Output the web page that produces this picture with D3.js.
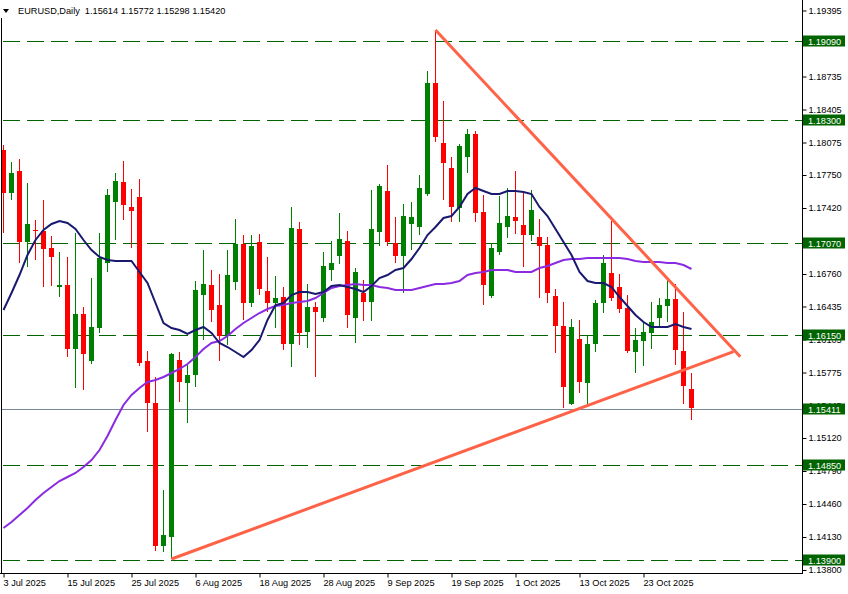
<!DOCTYPE html>
<html><head><meta charset="utf-8">
<script src="https://cdn.jsdelivr.net/npm/d3@7"></script>
<style>html,body{margin:0;padding:0;background:#fff;} svg{display:block;}</style>
</head><body><svg id="c" width="848" height="594"></svg>
<script>
// ---- DATA ----
const symbol = "EURUSD,Daily";
const dates = [
"2025-07-03","2025-07-04","2025-07-07","2025-07-08","2025-07-09","2025-07-10","2025-07-11","2025-07-14","2025-07-15","2025-07-16",
"2025-07-17","2025-07-18","2025-07-21","2025-07-22","2025-07-23","2025-07-24","2025-07-25","2025-07-28","2025-07-29","2025-07-30",
"2025-07-31","2025-08-01","2025-08-04","2025-08-05","2025-08-06","2025-08-07","2025-08-08","2025-08-11","2025-08-12","2025-08-13",
"2025-08-14","2025-08-15","2025-08-18","2025-08-19","2025-08-20","2025-08-21","2025-08-22","2025-08-25","2025-08-26","2025-08-27",
"2025-08-28","2025-08-29","2025-09-01","2025-09-02","2025-09-03","2025-09-04","2025-09-05","2025-09-08","2025-09-09","2025-09-10",
"2025-09-11","2025-09-12","2025-09-15","2025-09-16","2025-09-17","2025-09-18","2025-09-19","2025-09-22","2025-09-23","2025-09-24",
"2025-09-25","2025-09-26","2025-09-29","2025-09-30","2025-10-01","2025-10-02","2025-10-03","2025-10-06","2025-10-07","2025-10-08",
"2025-10-09","2025-10-10","2025-10-13","2025-10-14","2025-10-15","2025-10-16","2025-10-17","2025-10-20","2025-10-21","2025-10-22",
"2025-10-23","2025-10-24","2025-10-27","2025-10-28","2025-10-29","2025-10-30","2025-10-31"];
const open = [
1.1800,1.1757,1.1779,1.1708,1.1720,1.1719,1.1702,1.1663,1.1665,1.1601,
1.1636,1.1589,1.1622,1.1687,1.1748,1.1768,1.1743,1.1753,1.1589,1.1547,
1.1404,1.1413,1.1590,1.1567,1.1575,1.1655,1.1665,1.1645,1.1615,1.1668,
1.1706,1.1647,1.1708,1.1659,1.1647,1.1653,1.1606,1.1721,1.1618,1.1643,
1.1632,1.1680,1.1694,1.1709,1.1632,1.1657,1.1648,1.1718,1.1759,1.1707,
1.1694,1.1726,1.1723,1.1756,1.1867,1.1807,1.1782,1.1742,1.1793,1.1816,
1.1738,1.1654,1.1698,1.1723,1.1733,1.1725,1.1715,1.1713,1.1705,1.1654,
1.1624,1.1546,1.1611,1.1567,1.1606,1.1647,1.1677,1.1663,1.1642,1.1598,
1.1609,1.1617,1.1632,1.1644,1.1651,1.1599,1.15614];
const high = [
1.1805,1.1788,1.1791,1.1767,1.1730,1.1750,1.1714,1.1698,1.1693,1.1717,
1.1643,1.1672,1.1717,1.1761,1.1777,1.1789,1.1761,1.1771,1.1599,1.1573,
1.1460,1.1597,1.1598,1.1587,1.1669,1.1700,1.1680,1.1676,1.1700,1.1731,
1.1715,1.1715,1.1716,1.1693,1.1674,1.1663,1.1743,1.1728,1.1666,1.1648,
1.1698,1.1709,1.1737,1.1719,1.1682,1.1670,1.1760,1.1766,1.1785,1.1733,
1.1746,1.1748,1.1775,1.1879,1.1920,1.1849,1.1793,1.1806,1.1821,1.1819,
1.1755,1.1707,1.1754,1.1762,1.1779,1.1757,1.1760,1.1731,1.1713,1.1661,
1.1648,1.1631,1.1630,1.1614,1.1650,1.1695,1.1729,1.1676,1.1655,1.1622,
1.1628,1.1648,1.1652,1.1670,1.1666,1.1638,1.15772];
const low = [
1.1717,1.1750,1.1687,1.1683,1.1690,1.1663,1.1664,1.1653,1.1593,1.1562,
1.1560,1.1586,1.1617,1.1678,1.1710,1.1730,1.1702,1.1584,1.1518,1.1399,
1.1398,1.1391,1.1548,1.1527,1.1563,1.1610,1.1628,1.1589,1.1605,1.1660,
1.1630,1.1643,1.1655,1.1638,1.1622,1.1600,1.1583,1.1605,1.1602,1.1573,
1.1628,1.1669,1.1686,1.1622,1.1607,1.1629,1.1629,1.1704,1.1704,1.1687,
1.1657,1.1700,1.1715,1.1754,1.1808,1.1750,1.1728,1.1728,1.1777,1.1728,
1.1645,1.1652,1.1695,1.1712,1.1716,1.1683,1.1709,1.1652,1.1647,1.1597,
1.1542,1.1545,1.1557,1.1543,1.1598,1.1637,1.1649,1.1637,1.1597,1.1577,
1.1584,1.1601,1.1623,1.1628,1.1585,1.1546,1.15298];
const close = [
1.1757,1.1777,1.1708,1.1726,1.1719,1.1701,1.1693,1.1665,1.1601,1.1636,
1.1596,1.1623,1.1692,1.1755,1.1769,1.1745,1.1739,1.1587,1.1547,1.1404,
1.1415,1.1596,1.1568,1.1575,1.1660,1.1666,1.1640,1.1614,1.1675,1.1706,
1.1647,1.1704,1.1661,1.1647,1.1652,1.1606,1.1722,1.1617,1.1643,1.1638,
1.1684,1.1687,1.1711,1.1635,1.1678,1.1648,1.1721,1.1764,1.1708,1.1694,
1.1734,1.1733,1.1762,1.1867,1.1813,1.1787,1.1743,1.1804,1.1816,1.1737,
1.1665,1.1702,1.1727,1.1734,1.1729,1.1715,1.1740,1.1704,1.1657,1.1624,
1.1563,1.1623,1.1568,1.1606,1.1647,1.1687,1.1652,1.1641,1.1599,1.1610,
1.1618,1.1628,1.1645,1.1651,1.1600,1.1564,1.15420];
const maFast = [
1.1640,1.1657,1.1675,1.1695,1.1710,1.1720,1.1726,1.1729,1.1727,1.1721,
1.1710,1.1700,1.1693,1.1690,1.1689,1.1689,1.1689,1.1678,1.1667,1.1647,
1.1627,1.1622,1.1620,1.1616,1.1620,1.1623,1.1617,1.1607,1.1603,1.1598,
1.1593,1.1600,1.1610,1.1630,1.1645,1.1647,1.1655,1.1658,1.1658,1.1656,
1.1658,1.1664,1.1665,1.1663,1.1661,1.1658,1.1664,1.1672,1.1675,1.1680,
1.1682,1.1691,1.1702,1.1715,1.1723,1.1732,1.1734,1.1743,1.1756,1.1762,
1.1759,1.1756,1.1756,1.1759,1.1759,1.1758,1.1756,1.1743,1.1734,1.1721,
1.1708,1.1695,1.1678,1.1669,1.1667,1.1667,1.1663,1.1653,1.1644,1.1635,
1.1628,1.1623,1.1623,1.1623,1.1626,1.1623,1.1621];
const maSlow = [
1.1422,1.1428,1.1435,1.1442,1.1450,1.1457,1.1463,1.1469,1.1473,1.1477,
1.1483,1.1490,1.1500,1.1514,1.1530,1.1545,1.1555,1.1562,1.1568,1.1570,
1.1573,1.1577,1.1581,1.1586,1.1593,1.1601,1.1607,1.1609,1.1614,1.1621,
1.1627,1.1632,1.1637,1.1641,1.1644,1.1645,1.1647,1.1648,1.1649,1.1652,
1.1657,1.1662,1.1664,1.1665,1.1666,1.1665,1.1665,1.1663,1.1662,1.1660,
1.1660,1.1660,1.1662,1.1664,1.1666,1.1666,1.1667,1.1669,1.1675,1.1677,
1.1678,1.1680,1.1680,1.1680,1.1678,1.1678,1.1678,1.1682,1.1684,1.1687,
1.1690,1.1691,1.1691,1.1692,1.1692,1.1692,1.1692,1.1692,1.1691,1.1689,
1.1688,1.1688,1.1688,1.1687,1.1687,1.1685,1.1681];
const levels = [1.19090, 1.18300, 1.17070, 1.16150, 1.14850, 1.13900];
const bid = 1.15411;
const priceTicks = [1.19395,1.19065,1.18735,1.18405,1.18075,1.17750,1.17420,1.17090,1.16760,1.16435,1.16105,1.15775,1.15445,1.15120,1.14790,1.14460,1.14130,1.13800];
const dateTickIdx = [0,8,16,24,32,40,48,56,64,72,80];
const trendUpper = [[54, 1.1920], [92.1, 1.15933]];
const trendLower = [[21, 1.1391], [91.25, 1.15983]];

// ---- CHECK ----
[dates, open, high, low, close, maFast, maSlow].forEach((a, k) => {
  if (a.length !== 87) throw new Error("length mismatch in array " + k + ": " + a.length);
});

// ---- CHART ----
const plotR = 802, plotB = 573;
const svg = d3.select("#c");
const FONT = "'Liberation Sans', Arial, sans-serif";
const FS = "9.2px";
const x = d3.scaleLinear().domain([0, 86]).range([3, 691]);
const y = d3.scaleLinear().domain([1.138, 1.195]).range([570, 0]);

svg.append("defs").append("clipPath").attr("id", "plot")
  .append("rect").attr("x", 2).attr("y", 0).attr("width", plotR - 2).attr("height", plotB);

const g = svg.append("g").attr("clip-path", "url(#plot)");

// horizontal levels
g.selectAll("line.lvl").data(levels).join("line")
  .attr("x1", 3).attr("x2", plotR)
  .attr("y1", d => Math.round(y(d)) + 0.5).attr("y2", d => Math.round(y(d)) + 0.5)
  .attr("stroke", "#006400").attr("stroke-width", 1).attr("stroke-dasharray", "17,7");
// bid line
g.append("line").attr("x1", 0).attr("x2", plotR)
  .attr("y1", Math.round(y(bid)) + 0.5).attr("y2", Math.round(y(bid)) + 0.5)
  .attr("stroke", "#778899").attr("stroke-width", 1);

// candles
const idx = d3.range(open.length);
const col = i => close[i] >= open[i] ? "#008000" : "#ff0000";
g.selectAll("rect.wick").data(idx).join("rect")
  .attr("x", i => Math.round(x(i)))
  .attr("width", 1)
  .attr("y", i => Math.round(y(high[i])))
  .attr("height", i => Math.max(1, Math.round(y(low[i])) - Math.round(y(high[i]))))
  .attr("fill", col);
g.selectAll("rect.body").data(idx).join("rect")
  .attr("x", i => Math.round(x(i)) - 2)
  .attr("width", 5)
  .attr("y", i => Math.round(y(Math.max(open[i], close[i]))))
  .attr("height", i => Math.max(1, Math.round(y(Math.min(open[i], close[i]))) - Math.round(y(Math.max(open[i], close[i])))))
  .attr("fill", col);

// moving averages
const line = d3.line().x((d, i) => x(i) + 0.5).y(d => y(d));
g.append("path").attr("d", line(maSlow)).attr("fill", "none")
  .attr("stroke", "#8a2be2").attr("stroke-width", 2);
g.append("path").attr("d", line(maFast)).attr("fill", "none")
  .attr("stroke", "#191970").attr("stroke-width", 2);

// trend lines
const tline = d3.line().x(d => x(d[0]) + 0.5).y(d => y(d[1]));
[trendUpper, trendLower].forEach(t => {
  g.append("path").attr("d", tline(t)).attr("fill", "none")
    .attr("stroke", "#ff6347").attr("stroke-width", 3);
});

// axes frame
svg.append("line").attr("x1", plotR + 0.5).attr("x2", plotR + 0.5).attr("y1", 0).attr("y2", plotB + 1)
  .attr("stroke", "#000");
svg.append("line").attr("x1", 0).attr("x2", plotR + 1).attr("y1", plotB + 0.5).attr("y2", plotB + 0.5)
  .attr("stroke", "#000");
svg.append("line").attr("x1", 1.5).attr("x2", 1.5).attr("y1", 18).attr("y2", plotB)
  .attr("stroke", "#000");

// right price axis
const boxes = levels.concat([bid]);
const covered = v => boxes.some(b => Math.abs(y(b) - y(v)) < 3);
const yAxis = d3.axisRight(y).tickValues(priceTicks)
  .tickFormat(v => covered(v) ? "" : d3.format(".5f")(v)).tickSize(4).tickPadding(2);
const ya = svg.append("g").attr("transform", `translate(${plotR + 0.5},0)`).call(yAxis);
ya.select(".domain").remove();
ya.selectAll("text").attr("font-family", FONT).attr("font-size", FS).attr("fill", "#000");
ya.selectAll("line").attr("stroke", "#000");

// bottom date axis
const fmt = d3.timeFormat("%-d %b %Y"), parse = d3.timeParse("%Y-%m-%d");
const xAxis = d3.axisBottom(x).tickValues(dateTickIdx).tickFormat(i => fmt(parse(dates[i]))).tickSize(4).tickPadding(2);
const xa = svg.append("g").attr("transform", `translate(0.5,${plotB + 0.5})`).call(xAxis);
xa.select(".domain").remove();
xa.selectAll("text").attr("font-family", FONT).attr("font-size", FS).attr("fill", "#000")
  .attr("text-anchor", "start").attr("dx", "-0.5");
xa.selectAll("line").attr("stroke", "#000");

// level label boxes
const lb = svg.append("g");
boxes.forEach(v => {
  const yy = Math.round(y(v)) + 0.5;
  lb.append("line").attr("x1", 795).attr("x2", plotR).attr("y1", yy).attr("y2", yy)
    .attr("stroke", v === bid ? "#778899" : "#006400");
  lb.append("rect").attr("x", 803).attr("y", yy - 6).attr("width", 42).attr("height", 11)
    .attr("fill", "#006400");
  lb.append("text").attr("x", 808).attr("y", yy + 3.5)
    .attr("font-family", FONT).attr("font-size", FS).attr("fill", "#fff")
    .text(d3.format(".5f")(v));
});

// title
const n = open.length - 1;
svg.append("path").attr("d", "M3,9 L9,9 L6,13 Z").attr("fill", "#000");
svg.append("text").attr("x", 18).attr("y", 14)
  .attr("font-family", FONT).attr("font-size", FS).attr("fill", "#000")
  .attr("xml:space", "preserve").style("white-space", "pre")
  .text(`${symbol}  ${open[n].toFixed(5)} ${high[n].toFixed(5)} ${low[n].toFixed(5)} ${close[n].toFixed(5)}`);
</script>
</body></html>
